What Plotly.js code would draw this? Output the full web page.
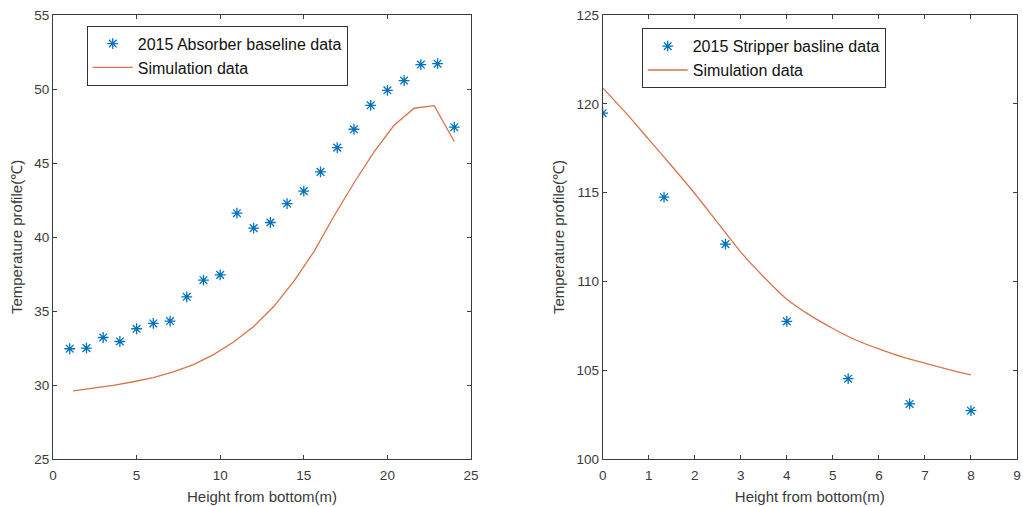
<!DOCTYPE html>
<html>
<head>
<meta charset="utf-8">
<script src="https://cdn.plot.ly/plotly-3.0.1.min.js"></script>
<style>
  html, body { margin: 0; padding: 0; background: #ffffff; }
  #chart { width: 1023px; height: 507px; }
</style>
</head>
<body>
<div id="chart"></div>
<script>
// ---- Left panel: absorber ----
const absorberHeight = [1, 2, 3, 4, 5, 6, 7, 8, 9, 10, 11, 12, 13, 14, 15, 16, 17, 18, 19, 20, 21, 22, 23, 24];
const absorberTemp = [32.45, 32.49, 33.21, 32.94, 33.8, 34.16, 34.32, 35.96, 37.08, 37.44, 41.61, 40.6, 40.98, 42.26, 43.1, 44.4, 46.04, 47.28, 48.9, 49.91, 50.57, 51.65, 51.71, 47.42];
const absorberSimHeight = [1.2, 2.4, 3.6, 4.8, 6.0, 7.2, 8.4, 9.6, 10.8, 12.0, 13.2, 14.4, 15.6, 16.8, 18.0, 19.2, 20.4, 21.6, 22.8, 24.0];
const absorberSimTemp = [29.6, 29.78, 29.98, 30.22, 30.5, 30.88, 31.38, 32.05, 32.9, 33.95, 35.3, 37.0, 39.0, 41.4, 43.65, 45.75, 47.55, 48.7, 48.87, 46.45];

// ---- Right panel: stripper ----
const stripperHeight = [0, 1.333, 2.667, 4, 5.333, 6.667, 8];
const stripperTemp = [119.47, 114.74, 112.1, 107.75, 104.52, 103.1, 102.72];
const stripperSimHeight = [0, 0.5, 1.0, 1.5, 2.0, 2.5, 3.0, 3.5, 4.0, 4.5, 5.0, 5.5, 6.0, 6.5, 7.0, 7.5, 8.0];
const stripperSimTemp = [120.9, 119.5, 118.0, 116.5, 114.95, 113.3, 111.65, 110.25, 109.0, 108.1, 107.35, 106.7, 106.2, 105.75, 105.4, 105.05, 104.74];

// ---- Labels ----
const legendAbsorber = "2015 Absorber baseline data";
const legendStripper = "2015 Stripper basline data";
const legendSim = "Simulation data";
const xTitle = "Height from bottom(m)";
const yTitle = "Temperature profile(\u2103)";
const leftXTicks = [0, 5, 10, 15, 20, 25];
const leftYTicks = [25, 30, 35, 40, 45, 50, 55];
const rightXTicks = [0, 1, 2, 3, 4, 5, 6, 7, 8, 9];
const rightYTicks = [100, 105, 110, 115, 120, 125];

const markerColor = "#0072BD";
const lineColor = "#D9734A";
const axisColor = "#3c3c3c";
const textColor = "#3a3a3a";
const fontFamily = "Liberation Sans, Arial, sans-serif";

const traces = [
  {
    x: absorberHeight, y: absorberTemp, type: "scatter", mode: "markers",
    name: legendAbsorber, xaxis: "x", yaxis: "y", legend: "legend",
    marker: { symbol: "asterisk-open", size: 9, color: markerColor, line: { color: markerColor, width: 1.3 } }
  },
  {
    x: absorberSimHeight, y: absorberSimTemp, type: "scatter", mode: "lines",
    name: legendSim, xaxis: "x", yaxis: "y", legend: "legend",
    line: { color: lineColor, width: 1.3 }
  },
  {
    x: stripperHeight, y: stripperTemp, type: "scatter", mode: "markers",
    name: legendStripper, xaxis: "x2", yaxis: "y2", legend: "legend2",
    marker: { symbol: "asterisk-open", size: 9, color: markerColor, line: { color: markerColor, width: 1.3 } }
  },
  {
    x: stripperSimHeight, y: stripperSimTemp, type: "scatter", mode: "lines",
    name: legendSim, xaxis: "x2", yaxis: "y2", legend: "legend2",
    line: { color: lineColor, width: 1.3, shape: "spline", smoothing: 0.8 }
  }
];

function axisBase(extra) {
  return Object.assign({
    showline: true, linecolor: axisColor, linewidth: 1, mirror: "ticks",
    ticks: "inside", ticklen: 4, tickcolor: axisColor, tickwidth: 1,
    showgrid: false, zeroline: false, tickmode: "array",
    ticklabeloverflow: "allow",
    tickfont: { family: fontFamily, size: 13.5, color: textColor },
    fixedrange: true
  }, extra);
}

const legendStyle = {
  bgcolor: "#ffffff", bordercolor: "#333333", borderwidth: 1,
  font: { family: fontFamily, size: 16, color: "#111111" },
  xanchor: "left", yanchor: "top", itemwidth: 40, tracegroupgap: 0
};

const layout = {
  width: 1023, height: 507,
  margin: { l: 53, r: 6, t: 15, b: 48 },
  paper_bgcolor: "#ffffff", plot_bgcolor: "#ffffff",
  font: { family: fontFamily, color: textColor },
  showlegend: true,
  xaxis: axisBase({
    domain: [0, 0.4336], range: [0, 25], tickvals: leftXTicks, anchor: "y",
    ticklabelstandoff: 4,
    title: { text: xTitle, font: { family: fontFamily, size: 15, color: textColor }, standoff: 9 }
  }),
  yaxis: axisBase({
    domain: [0, 1], range: [25, 55], tickvals: leftYTicks, anchor: "x",
    title: { text: yTitle, font: { family: fontFamily, size: 15, color: textColor }, standoff: 8 }
  }),
  xaxis2: axisBase({
    domain: [0.5702, 1], range: [0, 9], tickvals: rightXTicks, anchor: "y2",
    ticklabelstandoff: 4,
    title: { text: xTitle, font: { family: fontFamily, size: 15, color: textColor }, standoff: 9 }
  }),
  yaxis2: axisBase({
    domain: [0, 1], range: [100, 125], tickvals: rightYTicks, anchor: "x2",
    title: { text: yTitle, font: { family: fontFamily, size: 15, color: textColor }, standoff: 8 }
  }),
  legend: Object.assign({ x: 0.035, y: 0.976 }, legendStyle),
  legend2: Object.assign({ x: 0.6107, y: 0.97 }, legendStyle)
};

Plotly.newPlot("chart", traces, layout, { displayModeBar: false, staticPlot: true });
</script>
</body>
</html>
